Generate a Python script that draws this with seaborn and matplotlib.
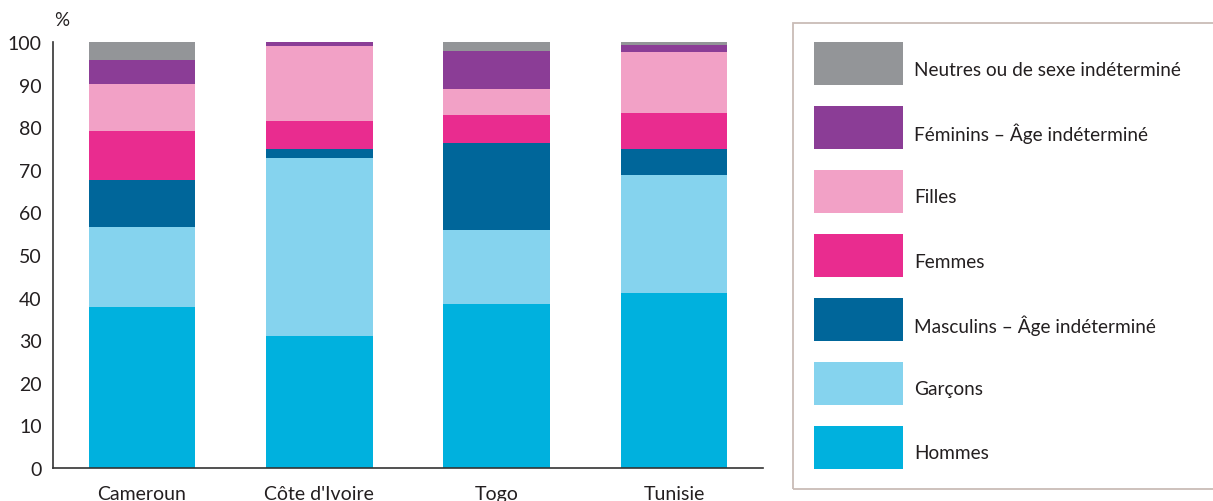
import matplotlib
matplotlib.use("Agg")
import matplotlib.pyplot as plt
import seaborn as sns
import numpy as np
from matplotlib.patches import Rectangle

countries = ["Cameroun", "Côte d'Ivoire", "Togo", "Tunisie"]
hommes = [37.7, 30.9, 38.5, 41.0]
garcons = [18.8, 41.8, 17.4, 27.7]
masculins = [11.0, 2.3, 20.5, 6.1]
femmes = [11.5, 6.4, 6.4, 8.5]
filles = [11.1, 17.6, 6.1, 14.3]
feminins = [5.6, 1.0, 8.9, 1.6]
neutres = [4.3, 0.0, 2.2, 0.8]

series_labels = ["Hommes", "Garçons", "Masculins – Âge indéterminé", "Femmes",
                 "Filles", "Féminins – Âge indéterminé", "Neutres ou de sexe indéterminé"]
series_values = [hommes, garcons, masculins, femmes, filles, feminins, neutres]
colors = ["#00b1de", "#85d3ee", "#00669a", "#e92c8f", "#f2a1c6", "#8b3d96", "#939598"]

sns.set_theme(style="white")
plt.rcParams['font.family'] = ['Lato', 'DejaVu Sans']
text_color = "#231f20"
W, H = 1213, 502

fig = plt.figure(figsize=(W/100, H/100), dpi=100)
ax = fig.add_axes([53/W, 1-469/H, (763-53)/W, (469-43)/H])

bottom = np.zeros(len(countries))
for lab, vals, col in zip(series_labels, series_values, colors):
    sns.barplot(x=countries, y=vals, color=col, width=0.6, bottom=bottom,
                errorbar=None, ax=ax, linewidth=0, saturation=1)
    bottom = bottom + np.array(vals)

ax.set_ylim(0, 100)
ax.set_xlim(-0.5, 3.5)
ax.set_yticks(range(0, 101, 10))
ax.tick_params(axis='y', direction='in', length=12.5, width=1.2, color="#333333",
               pad=8, labelsize=14, labelcolor=text_color)
ax.tick_params(axis='x', which='major', length=0, pad=12.5, labelsize=14, labelcolor=text_color)
ax.set_xticks(np.arange(-0.5, 4, 1), minor=True)
ax.tick_params(axis='x', which='minor', direction='in', length=7, width=1.2, color="#333333")
for s in ["top", "right"]:
    ax.spines[s].set_visible(False)
for s in ["left", "bottom"]:
    ax.spines[s].set_color("#333333")
    ax.spines[s].set_linewidth(1.2)
ax.set_xlabel("")
ax.set_ylabel("")

fig.text(62/W, 1-20/H, "%", ha="center", va="center", fontsize=13.5, color=text_color)

# legend frame
fig.patches.append(Rectangle((793/W, 1-490/H), (1220-793)/W, (490-24)/H,
                             transform=fig.transFigure, fill=False,
                             edgecolor="#c9bcb6", linewidth=1.3))
# legend entries, top to bottom
for i, (lab, col) in enumerate(zip(series_labels[::-1], colors[::-1])):
    top = 43 + 64 * i
    fig.patches.append(Rectangle((814/W, 1-(top+43)/H), 89/W, 43/H,
                                 transform=fig.transFigure, facecolor=col,
                                 edgecolor='none'))
    fig.text(914/W, 1-(top+27)/H, lab, ha="left", va="center", fontsize=13.7,
             color=text_color)

fig.savefig("out.png", dpi=100)
